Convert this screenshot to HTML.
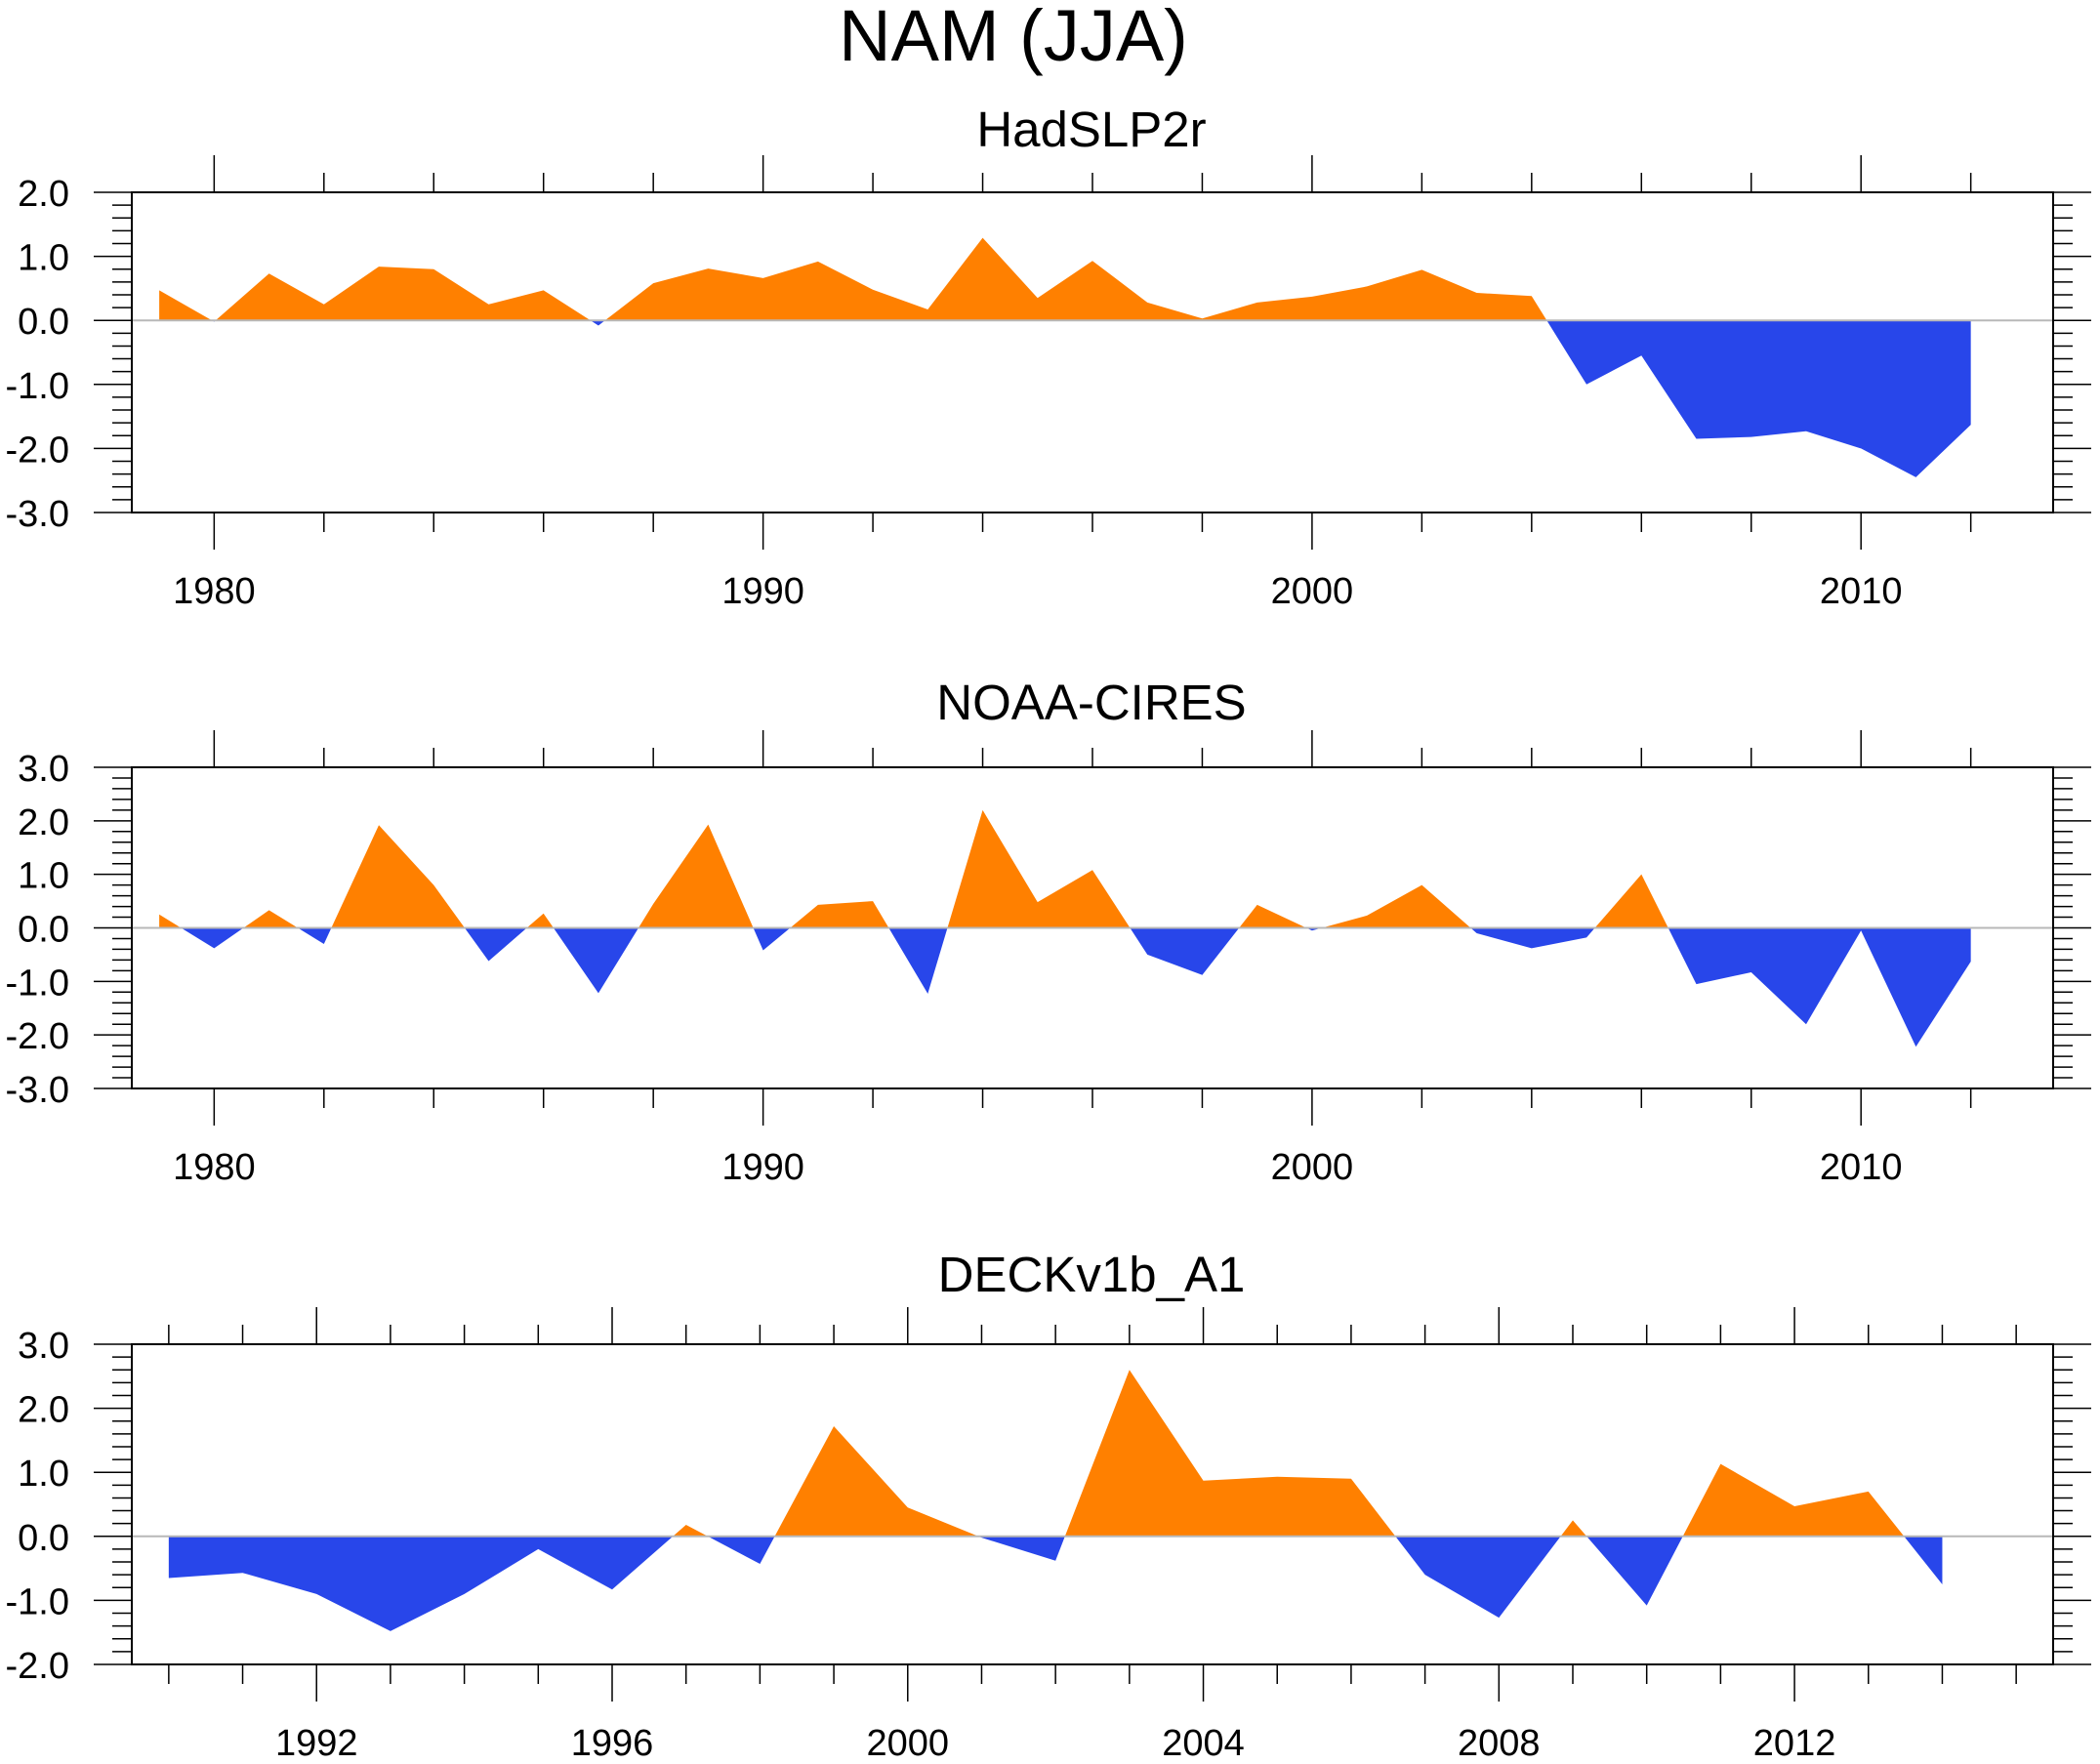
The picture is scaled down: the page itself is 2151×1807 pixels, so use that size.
<!DOCTYPE html>
<html><head><meta charset="utf-8"><style>
html,body{margin:0;padding:0;background:#fff;}
svg{display:block;font-family:"Liberation Sans",sans-serif;}
</style></head><body>
<svg id="chart" width="2151" height="1807" viewBox="0 0 2151 1807" xmlns="http://www.w3.org/2000/svg">
<text x="1038" y="62" font-size="74" text-anchor="middle">NAM (JJA)</text>
</svg>
<script>
const years1 = [1979,1980,1981,1982,1983,1984,1985,1986,1987,1988,1989,1990,1991,1992,1993,1994,1995,1996,1997,1998,1999,2000,2001,2002,2003,2004,2005,2006,2007,2008,2009,2010,2011,2012];
const hadslp = [0.47,-0.02,0.73,0.25,0.84,0.80,0.25,0.47,-0.08,0.58,0.81,0.66,0.92,0.48,0.17,1.29,0.35,0.93,0.28,0.03,0.28,0.37,0.53,0.79,0.43,0.38,-1.00,-0.55,-1.85,-1.82,-1.73,-2.00,-2.45,-1.63];
const noaa = [0.25,-0.38,0.33,-0.30,1.92,0.80,-0.62,0.27,-1.22,0.45,1.93,-0.42,0.43,0.50,-1.23,2.20,0.48,1.08,-0.50,-0.88,0.43,-0.05,0.23,0.80,-0.10,-0.38,-0.18,1.00,-1.05,-0.83,-1.80,-0.05,-2.22,-0.63];
const years3 = [1990,1991,1992,1993,1994,1995,1996,1997,1998,1999,2000,2001,2002,2003,2004,2005,2006,2007,2008,2009,2010,2011,2012,2013,2014];
const deck = [-0.65,-0.57,-0.90,-1.48,-0.90,-0.20,-0.83,0.18,-0.43,1.72,0.45,-0.02,-0.38,2.60,0.87,0.93,0.90,-0.60,-1.27,0.25,-1.08,1.13,0.47,0.70,-0.75];
const xLabels1 = [1980,1990,2000,2010];
const xLabels3 = [1992,1996,2000,2004,2008,2012];

const NS="http://www.w3.org/2000/svg";
const svg=document.getElementById('chart');
function mk(tag,attrs,parent){const e=document.createElementNS(NS,tag);for(const k in attrs)e.setAttribute(k,attrs[k]);(parent||svg).appendChild(e);return e;}

const L=135,R=2103;
function panel(id,title,titleY,top,bot,xmin,xmax,ymin,ymax,years,vals,majorX,minorX,labels,labelY){
  const g=mk('g',{});
  
  
  const sx=v=>L+(v-xmin)/(xmax-xmin)*(R-L);
  const sy=v=>bot-(v-ymin)/(ymax-ymin)*(bot-top);
  const t=mk('text',{x:1118,y:titleY,'font-size':51,'text-anchor':'middle'},g);t.textContent=title;
  
  
  const y0=sy(0);
  let d='M'+sx(years[0])+','+y0;
  years.forEach((yr,i)=>{d+=' L'+sx(yr)+','+sy(vals[i]);});
  d+=' L'+sx(years[years.length-1])+','+y0+' Z';
  const cu=mk('clipPath',{id:id+'-cu'},g);mk('rect',{x:L,y:top,width:R-L,height:y0-top},cu);
  const cd=mk('clipPath',{id:id+'-cd'},g);mk('rect',{x:L,y:y0,width:R-L,height:bot-y0},cd);
  const pos=mk('path',{d:d,fill:'#ff8000','clip-path':'url(#'+id+'-cu)'},g);
  
  
  const neg=mk('path',{d:d,fill:'#2846ea','clip-path':'url(#'+id+'-cd)'},g);
  
  
  const zl=mk('line',{x1:L,x2:R,y1:y0,y2:y0,stroke:'#b8b8b8','stroke-width':2},g);
  
  
  const box=mk('rect',{x:L,y:top,width:R-L,height:bot-top,fill:'none',stroke:'#000','stroke-width':2},g);
  
  
  for(let yr=Math.ceil(xmin);yr<=xmax;yr++){
    if(yr%minorX!==0)continue;
    const maj=yr%majorX===0, len=maj?38:20, x=sx(yr);
    mk('line',{x1:x,x2:x,y1:top,y2:top-len,stroke:'#000','stroke-width':1.5},g);
    mk('line',{x1:x,x2:x,y1:bot,y2:bot+len,stroke:'#000','stroke-width':1.5},g);
  }
  labels.forEach(lb=>{const tx=mk('text',{x:sx(lb),y:labelY,'font-size':38,'text-anchor':'middle'},g);tx.textContent=lb;
    
    });
  for(let k=Math.round(ymin*5);k<=Math.round(ymax*5);k++){
    const v=k/5, y=sy(v), maj=k%5===0, len=maj?39:20;
    mk('line',{x1:L,x2:L-len,y1:y,y2:y,stroke:'#000','stroke-width':1.5},g);
    mk('line',{x1:R,x2:R+len,y1:y,y2:y,stroke:'#000','stroke-width':1.5},g);
    if(maj){const tx=mk('text',{x:71,y:y+14,'font-size':38,'text-anchor':'end'},g);tx.textContent=v.toFixed(1);
      
      }
  }
}
panel('hadslp2r','HadSLP2r',150,197,525,1978.5,2013.5,-3,2,years1,hadslp,10,2,xLabels1,618);
panel('noaa-cires','NOAA-CIRES',737,786,1115,1978.5,2013.5,-3,3,years1,noaa,10,2,xLabels1,1208);
panel('deckv1b-a1','DECKv1b_A1',1323,1377,1705,1989.5,2015.5,-2,3,years3,deck,4,1,xLabels3,1798);
</script>
</body></html>
